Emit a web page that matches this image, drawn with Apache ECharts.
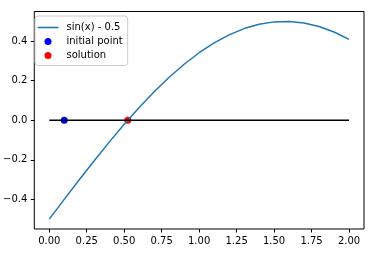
<!DOCTYPE html>
<html><head><meta charset="utf-8">
<script src="https://cdn.jsdelivr.net/npm/echarts@6/dist/echarts.min.js"></script>
<style>html,body{margin:0;padding:0;background:#fff}#c{width:372px;height:258px}</style>
</head><body><div id="c"></div>
<script>
// curve samples
const curveX = [0,0.1,0.2,0.3,0.4,0.5,0.6,0.7,0.8,0.9,1.0,1.1,1.2,1.3,1.4,1.5,1.6,1.7,1.8,1.9,2.0];
const curveY = [-0.5,-0.4,-0.301,-0.2045,-0.1106,-0.0206,0.0646,0.1442,0.2174,0.2833,0.3415,0.3912,0.432,0.4636,0.4854,0.4975,0.4996,0.4917,0.4738,0.4463,0.4093];
const zeroLineX = [0, 2];
const zeroLineY = [0, 0];
const initialPoint = [0.1, 0];
const solutionPoint = [0.5236, 0];
const xTicks = [0, 0.25, 0.5, 0.75, 1.0, 1.25, 1.5, 1.75, 2.0];
const yTicks = [-0.4, -0.2, 0.0, 0.2, 0.4];
const names = ['sin(x) - 0.5', 'initial point', 'solution'];

const font = 'DejaVu Sans';
const fmtNum = (v, d) => { const s = Math.abs(v).toFixed(d); return (v < -1e-9 ? '\u2212' : '') + s; };

const chart = echarts.init(document.getElementById('c'));
chart.setOption({
  animation: false,
  backgroundColor: '#fff',
  textStyle: { fontFamily: font },
  grid: { left: 29, right: 8, top: 11.5, bottom: 29, show: true, borderColor: '#000', borderWidth: 1, containLabel: false },
  xAxis: {
    type: 'value', min: -0.1, max: 2.1,
    splitLine: { show: false },
    axisLine: { show: false, onZero: false },
    axisTick: { show: true, customValues: xTicks, length: 3.5, lineStyle: { color: '#000', width: 1 } },
    axisLabel: { customValues: xTicks, margin: 7, color: '#000', fontSize: 10, fontFamily: font, formatter: v => fmtNum(v, 2) }
  },
  yAxis: {
    type: 'value', min: -0.55, max: 0.55,
    splitLine: { show: false },
    axisLine: { show: false, onZero: false },
    axisTick: { show: true, customValues: yTicks, length: 3.5, lineStyle: { color: '#000', width: 1 } },
    axisLabel: { customValues: yTicks, margin: 7, color: '#000', fontSize: 10, fontFamily: font, formatter: v => fmtNum(v, 1) }
  },
  legend: {
    orient: 'vertical', left: 35, top: 16,
    data: [
      { name: names[0], icon: 'path://M0,0h20v1.5h-20z' },
      { name: names[1] },
      { name: names[2] }
    ],
    itemWidth: 21, itemHeight: 7, itemGap: 4,
    padding: [6.5, 5, 5, 2.5],
    borderColor: '#ccc', borderWidth: 1, borderRadius: 3,
    backgroundColor: 'rgba(255,255,255,0.8)',
    textStyle: { color: '#000', fontSize: 10, fontFamily: font, padding: [0, 0, 0, 3] }
  },
  series: [
    { name: names[0], type: 'line', data: curveX.map((x, i) => [x, curveY[i]]), showSymbol: false, symbol: 'none',
      lineStyle: { color: '#1f77b4', width: 1.5 }, itemStyle: { color: '#1f77b4' } },
    { name: 'zero', type: 'line', data: zeroLineX.map((x, i) => [x, zeroLineY[i]]), symbol: 'none',
      lineStyle: { color: '#000', width: 1.5 } },
    { name: names[1], type: 'scatter', data: [initialPoint], symbolSize: 7, itemStyle: { color: '#0000ff', opacity: 1 } },
    { name: names[2], type: 'scatter', data: [solutionPoint], symbolSize: 7, itemStyle: { color: '#ff0000', opacity: 1 } }
  ]
});
</script></body></html>
